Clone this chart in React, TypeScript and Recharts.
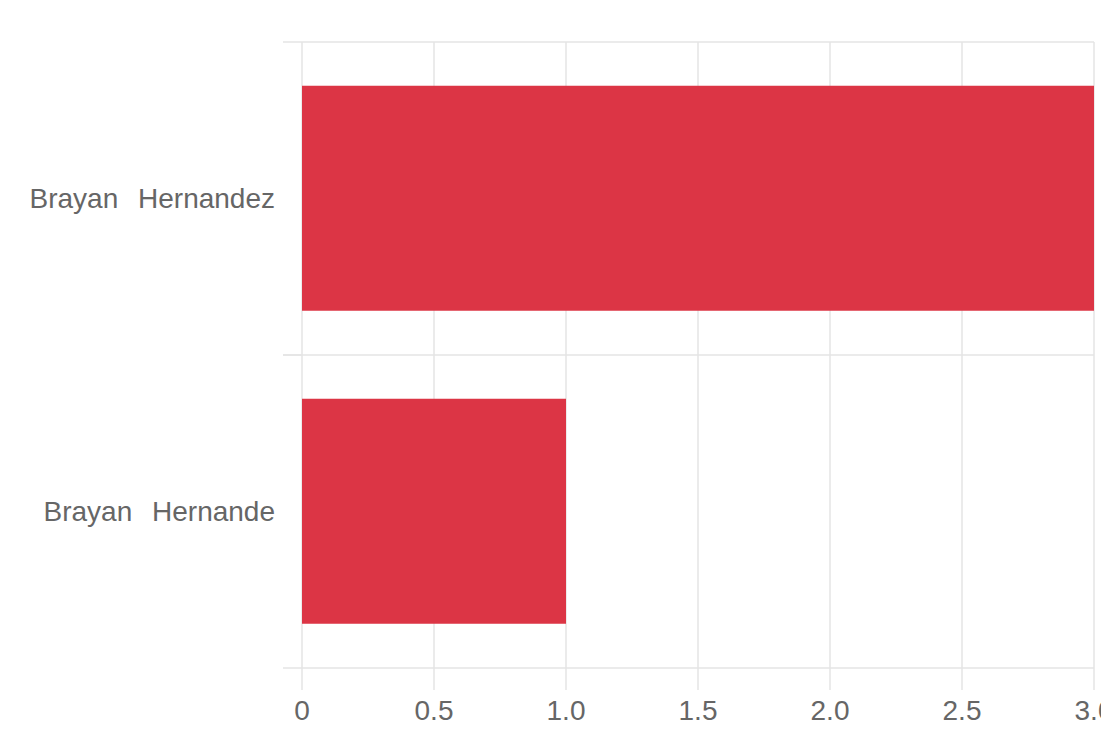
import React from "react";
import { BarChart, Bar, XAxis, YAxis, CartesianGrid } from "recharts";

const categories = ["Brayan Hernandez", "Brayan Hernande"];
const values = [3, 1];
const xTicks = [0, 0.5, 1, 1.5, 2, 2.5, 3];
const xTickLabels = ["0", "0.5", "1.0", "1.5", "2.0", "2.5", "3.0"];

const data = categories.map((name, i) => ({ name, value: values[i] }));
const boundaryTicks = [...categories.map((_, i) => i), categories.length];

const GRID = "#e4e4e4";
const TEXT = "#666666";
const FONT = "'Liberation Sans', Arial, sans-serif";
const TICK_LEN = 19;
const LABEL_GAP = 8;

const CategoryTick = (props: any) => {
  const { x, y, payload } = props;
  const half = payload && typeof payload.offset === "number" ? payload.offset : 0;
  const right = x + TICK_LEN + LABEL_GAP;
  return (
    <g>
      {half > 0 && (
        <>
          <line x1={right - TICK_LEN} x2={right} y1={y - half} y2={y - half} stroke={GRID} strokeWidth={1.5} />
          <line x1={right - TICK_LEN} x2={right} y1={y + half} y2={y + half} stroke={GRID} strokeWidth={1.5} />
        </>
      )}
      <text
        x={x}
        y={y}
        dy="0.355em"
        textAnchor="end"
        fill={TEXT}
        fontSize={28}
        fontFamily={FONT}
        wordSpacing={12}
      >
        {payload.value}
      </text>
    </g>
  );
};

export default function App() {
  return (
    <div
      style={{
        position: "absolute",
        left: 0,
        top: 0,
        width: 1101,
        height: 729,
        overflow: "hidden",
        background: "#ffffff",
      }}
    >
      <BarChart
        width={1130}
        height={729}
        data={data}
        layout="vertical"
        margin={{ top: 42, right: 36, bottom: 0, left: 0 }}
        barCategoryGap="14%"
      >
        <CartesianGrid
          stroke={GRID}
          strokeWidth={1.5}
          horizontalCoordinatesGenerator={({ offset }: any) =>
            boundaryTicks.map((t) => offset.top + (t * offset.height) / categories.length)
          }
        />
        <XAxis
          type="number"
          domain={[0, 3]}
          ticks={xTicks}
          tickFormatter={(v: number) => xTickLabels[xTicks.indexOf(v)] ?? String(v)}
          axisLine={false}
          tickLine={{ stroke: GRID, strokeWidth: 1.5 }}
          tickSize={22}
          tickMargin={10}
          height={61}
          interval={0}
          tick={{ fill: TEXT, fontSize: 28, fontFamily: FONT }}
        />
        <YAxis
          type="category"
          dataKey="name"
          axisLine={false}
          tickLine={false}
          tickSize={0}
          tickMargin={TICK_LEN + LABEL_GAP}
          width={302}
          interval={0}
          tick={<CategoryTick />}
        />
        <Bar dataKey="value" fill="#dc3545" isAnimationActive={false} />
      </BarChart>
    </div>
  );
}
